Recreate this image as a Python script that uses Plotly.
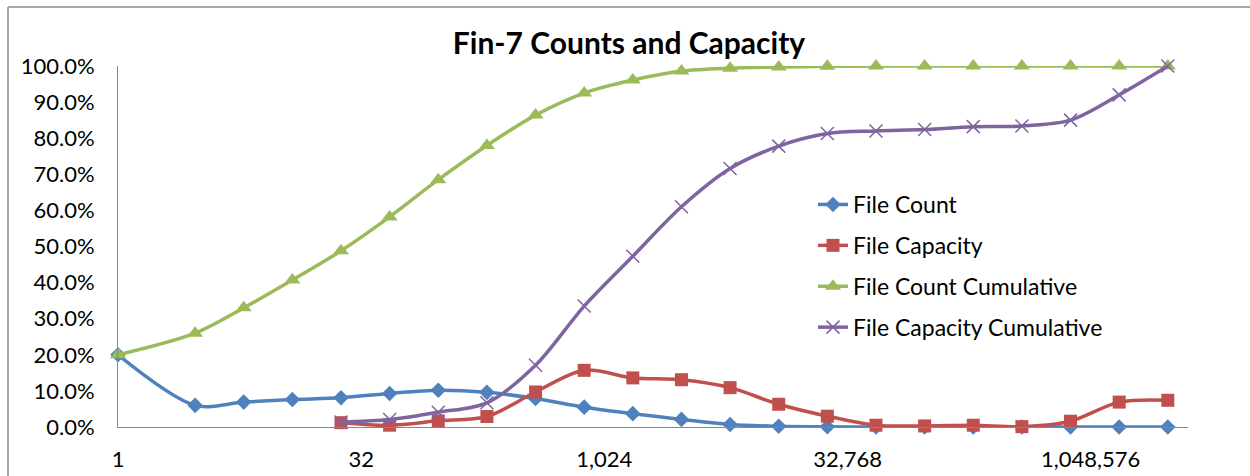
import plotly.graph_objects as go

# File size buckets (bytes, bucket midpoints on a base-2 scale)
size_buckets = [1, 3, 6, 12, 24, 48, 96, 192, 384, 768, 1536, 3072, 6144, 12288,
                24576, 49152, 98304, 196608, 393216, 786432, 1572864, 3145728]

file_count = [0.200, 0.060, 0.069, 0.076, 0.081, 0.093, 0.102, 0.096, 0.079, 0.055,
              0.037, 0.021, 0.007, 0.002, 0.0005, 0.0002, 0.0001, 0.0001, 0.0001,
              0.0001, 0.0, 0.0]
file_capacity = [None, None, None, None, 0.012, 0.005, 0.017, 0.029, 0.097, 0.157,
                 0.136, 0.131, 0.109, 0.063, 0.030, 0.005, 0.003, 0.005, 0.001,
                 0.016, 0.069, 0.074]
file_count_cum = [0.200, 0.260, 0.330, 0.407, 0.488, 0.582, 0.685, 0.780, 0.864, 0.925,
                  0.961, 0.986, 0.994, 0.997, 0.999, 1.0, 1.0, 1.0, 1.0, 1.0, 1.0, 1.0]
file_capacity_cum = [None, None, None, None, 0.014, 0.021, 0.041, 0.067, 0.171, 0.335,
                     0.473, 0.610, 0.716, 0.778, 0.813, 0.820, 0.824, 0.832, 0.834,
                     0.850, 0.920, 1.0]

x_tick_vals = [1, 32, 1024, 32768, 1048576]
x_tick_text = ["1", "32", "1,024", "32,768", "1,048,576"]

BLUE, RED, GREEN, PURPLE = "#4F81BD", "#C0504D", "#9BBB59", "#8064A2"
FONT = "Lato"

fig = go.Figure()

series = [
    ("File Count", file_count, BLUE, dict(symbol="diamond", size=12)),
    ("File Capacity", file_capacity, RED, dict(symbol="square", size=13)),
    ("File Count Cumulative", file_count_cum, GREEN, dict(symbol="triangle-up", size=14)),
    ("File Capacity Cumulative", file_capacity_cum, PURPLE,
     dict(symbol="x-thin", size=13, line=dict(color=PURPLE, width=1.5))),
]
for i, (name, vals, color, marker) in enumerate(series):
    fig.add_trace(go.Scatter(
        x=size_buckets, y=vals, name=name, mode="lines+markers",
        line=dict(color=color, width=3.5, shape="spline", smoothing=0.9),
        marker=dict(color=color, **marker),
        legendgroup=f"g{i}", cliponaxis=False,
    ))

W, H = 1250, 476
L, R, T, B = 118, 1188, 66, 427
pw, ph = R - L, B - T

def px_x(x):
    return (x - L) / pw

def px_y(y):
    return (B - y) / ph

fig.update_layout(
    width=W, height=H,
    margin=dict(l=L, r=W - R, t=T, b=H - B, autoexpand=False),
    paper_bgcolor="white", plot_bgcolor="white",
    font=dict(family=FONT, size=22, color="black"),
    title=dict(text="<b>Fin-7 Counts and Capacity</b>", x=629 / W, xanchor="center",
               y=1 - 43 / H, yanchor="middle", yref="container",
               font=dict(family=FONT, size=30, color="black")),
    xaxis=dict(type="log", range=[0, 22 * 0.30103], tickvals=x_tick_vals,
               ticktext=x_tick_text, showgrid=False, zeroline=False, automargin=False,
               showline=True, linecolor="#868686", linewidth=1, ticks="",
               ticklabelstandoff=13, tickfont=dict(size=22)),
    yaxis=dict(range=[0, 1], dtick=0.1, tickformat=".1%", showgrid=False,
               zeroline=False, showline=True, linecolor="#868686", linewidth=1,
               automargin=False, ticks="", ticklabelstandoff=18,
               tickfont=dict(size=22)),
    legend=dict(x=px_x(813), y=px_y(183), xanchor="left", yanchor="top",
                font=dict(family=FONT, size=23), traceorder="grouped",
                tracegroupgap=8, bgcolor="rgba(0,0,0,0)"),
    shapes=[
        dict(type="line", xref="paper", yref="paper", x0=px_x(8), x1=px_x(8),
             y0=px_y(7), y1=px_y(480), line=dict(color="#A6A6A6", width=2)),
        dict(type="line", xref="paper", yref="paper", x0=px_x(8), x1=px_x(1260),
             y0=px_y(7), y1=px_y(7), line=dict(color="#A6A6A6", width=2)),
    ],
)

fig.write_html("out.html")
